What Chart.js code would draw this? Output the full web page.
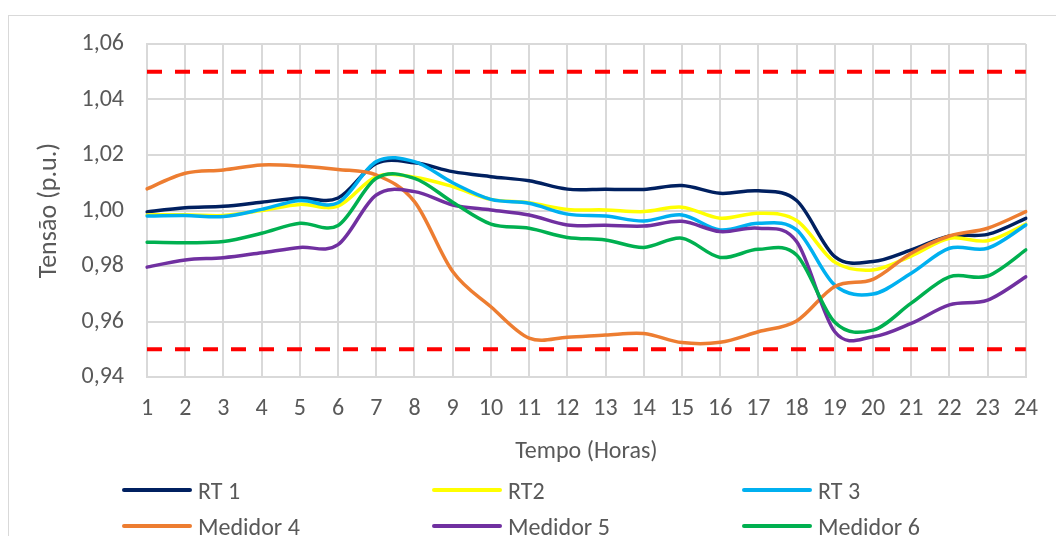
<!DOCTYPE html>
<html lang="pt">

<head>
  <meta charset="UTF-8">
  <title>Tensão ao longo do dia</title>
  <script src="https://cdn.jsdelivr.net/npm/chart.js"></script>
</head>
<style>
  body {
    margin: 0;
    background: #ffffff;
    font-family: Carlito, 'Liberation Sans', sans-serif;
  }

  #moldura {
    position: absolute;
    left: 8px;
    top: 15px;
    width: 1200px;
    height: 700px;
    border: 1px solid #d9d9d9;
  }

  #grafico {
    position: absolute;
    left: 0;
    top: 0;
  }

  #legenda {
    position: absolute;
    left: 122px;
    top: 472px;
    display: grid;
    grid-template-columns: 310px 310px 310px;
    grid-auto-rows: 36px;
    color: #595959;
    font-size: 24px;
  }

  #legenda div {
    display: flex;
    align-items: center;
  }

  #legenda span.linha {
    display: inline-block;
    width: 70px;
    height: 4px;
    border-radius: 2px;
    margin-right: 6px;
  }
</style>

<body>
  <div id="moldura"></div>
  <canvas id="grafico" width="1056" height="536"></canvas>
  <div id="legenda"></div>

  <script>
    const horas = ['1', '2', '3', '4', '5', '6', '7', '8', '9', '10', '11', '12',
      '13', '14', '15', '16', '17', '18', '19', '20', '21', '22', '23', '24'];

    const rt1 = [0.9995, 1.0010, 1.0015, 1.0030, 1.0045, 1.0045, 1.0170, 1.0172, 1.0140, 1.0122, 1.0107, 1.0077,
      1.0077, 1.0076, 1.0090, 1.0062, 1.0071, 1.0036, 0.9834, 0.9816, 0.9858, 0.9908, 0.9914, 0.9972];
    const rt2 = [0.9984, 0.9985, 0.9982, 1.0000, 1.0022, 1.0016, 1.0122, 1.0120, 1.0086, 1.0040, 1.0028, 1.0004,
      1.0002, 0.9996, 1.0012, 0.9972, 0.9990, 0.9964, 0.9814, 0.9786, 0.9836, 0.9900, 0.9891, 0.9951];
    const rt3 = [0.9980, 0.9982, 0.9978, 1.0004, 1.0036, 1.0028, 1.0176, 1.0176, 1.0100, 1.0040, 1.0026, 0.9987,
      0.9980, 0.9962, 0.9984, 0.9930, 0.9954, 0.9930, 0.9731, 0.9699, 0.9774, 0.9864, 0.9864, 0.9948];
    const medidor4 = [1.0078, 1.0134, 1.0146, 1.0164, 1.0160, 1.0148, 1.0128, 1.0032, 0.9780, 0.9653, 0.9540, 0.9543,
      0.9551, 0.9557, 0.9524, 0.9525, 0.9563, 0.9602, 0.9726, 0.9752, 0.9846, 0.9908, 0.9936, 0.9996];
    const medidor5 = [0.9796, 0.9822, 0.9830, 0.9848, 0.9867, 0.9877, 1.0056, 1.0068, 1.0020, 1.0002, 0.9984, 0.9948,
      0.9947, 0.9944, 0.9961, 0.9924, 0.9936, 0.9888, 0.9563, 0.9545, 0.9593, 0.9660, 0.9677, 0.9761];
    const medidor6 = [0.9886, 0.9884, 0.9888, 0.9918, 0.9954, 0.9946, 1.0116, 1.0116, 1.0030, 0.9951, 0.9936, 0.9903,
      0.9894, 0.9867, 0.9900, 0.9831, 0.9860, 0.9840, 0.9597, 0.9569, 0.9666, 0.9761, 0.9764, 0.9858];

    // limites de tensao (linhas vermelhas tracejadas)
    const limites = [1.05, 0.95];
    const ticksY = [0.94, 0.96, 0.98, 1.00, 1.02, 1.04, 1.06];

    const series = [
      { nome: 'RT 1', dados: rt1, cor: '#002060' },
      { nome: 'RT2', dados: rt2, cor: '#FFFF00' },
      { nome: 'RT 3', dados: rt3, cor: '#00B0F0' },
      { nome: 'Medidor 4', dados: medidor4, cor: '#ED7D31' },
      { nome: 'Medidor 5', dados: medidor5, cor: '#7030A0' },
      { nome: 'Medidor 6', dados: medidor6, cor: '#00B050' }
    ];

    const fonte = 'Carlito, "Liberation Sans", sans-serif';
    const cinza = '#595959';
    const grade = '#d9d9d9';

    const linhasLimite = {
      id: 'linhasLimite',
      beforeDatasetsDraw(chart) {
        const { ctx, chartArea, scales } = chart;
        ctx.save();
        ctx.strokeStyle = '#FF0000';
        ctx.lineWidth = 4;
        ctx.setLineDash([15, 13]);
        limites.forEach(v => {
          const y = scales.y.getPixelForValue(v);
          ctx.beginPath();
          ctx.moveTo(chartArea.left, y);
          ctx.lineTo(chartArea.right, y);
          ctx.stroke();
        });
        ctx.restore();
      }
    };

    // suavizacao tipo Excel (Catmull-Rom): pontos de controle a 1/6 da diferenca entre vizinhos
    const suavizaExcel = {
      id: 'suavizaExcel',
      beforeDatasetDraw(chart, args) {
        const pts = args.meta.data;
        args.meta.dataset.updateControlPoints(chart.chartArea, 'x');
        pts.forEach((p, i) => {
          const ant = pts[i - 1] || p;
          const prox = pts[i + 1] || p;
          const dx = (prox.x - ant.x) / 6;
          const dy = (prox.y - ant.y) / 6;
          p.cp1x = p.x - dx;
          p.cp1y = p.y - dy;
          p.cp2x = p.x + dx;
          p.cp2y = p.y + dy;
        });
      }
    };

    const ctx = document.getElementById('grafico').getContext('2d');
    const grafico = new Chart(ctx, {
      type: 'line',
      data: {
        labels: horas,
        datasets: series.map((s, i) => ({
          label: s.nome,
          data: s.dados,
          borderColor: s.cor,
          backgroundColor: s.cor,
          order: series.length - i
        }))
      },
      options: {
        responsive: false,
        animation: false,
        layout: { padding: { left: 0, top: 44, right: 30, bottom: 69 } },
        elements: {
          point: { radius: 0 },
          line: { tension: 0.4, borderWidth: 3.5, borderCapStyle: 'round', borderJoinStyle: 'round' }
        },
        plugins: {
          legend: { display: false },
          tooltip: { enabled: false }
        },
        scales: {
          x: {
            grid: { color: grade, lineWidth: 2, drawTicks: false },
            border: { color: grade, width: 2 },
            ticks: {
              color: cinza, font: { family: fonte, size: 24 }, padding: 18,
              maxRotation: 0, autoSkip: false
            },
            title: {
              display: true, text: 'Tempo (Horas)', color: cinza,
              font: { family: fonte, size: 24 }, padding: { top: 0, bottom: 1 }
            },
            afterFit(s) { s.height = 90; }
          },
          y: {
            min: 0.94,
            max: 1.06,
            grid: { color: grade, lineWidth: 2, drawTicks: false },
            border: { color: grade, width: 2 },
            afterBuildTicks(s) { s.ticks = ticksY.map(v => ({ value: v })); },
            ticks: {
              color: cinza, font: { family: fonte, size: 24 }, padding: 23,
              callback: v => v.toFixed(2).replace('.', ',')
            },
            title: {
              display: true, text: 'Tensão (p.u.)', color: cinza,
              font: { family: fonte, size: 26 }, padding: { top: 34, bottom: 0 }
            },
            afterFit(s) { s.width = 147; }
          }
        }
      },
      plugins: [linhasLimite, suavizaExcel]
    });

    // legenda em grade de 3 colunas, como no original
    const legenda = document.getElementById('legenda');
    series.forEach(s => {
      const item = document.createElement('div');
      const linha = document.createElement('span');
      linha.className = 'linha';
      linha.style.background = s.cor;
      const texto = document.createElement('span');
      texto.textContent = s.nome;
      item.appendChild(linha);
      item.appendChild(texto);
      legenda.appendChild(item);
    });
  </script>
</body>

</html>
